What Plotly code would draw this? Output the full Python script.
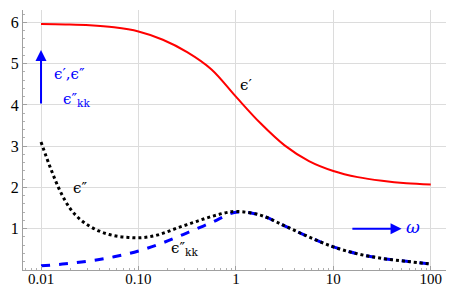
import plotly.graph_objects as go

# Data
omega = [0.01, 0.0178, 0.0316, 0.0562, 0.1, 0.178, 0.316, 0.562, 1.0,
         1.78, 3.16, 5.62, 10.0, 17.8, 31.6, 56.2, 100.0]
eps_real = [5.96, 5.95, 5.93, 5.88, 5.78, 5.58, 5.28, 4.86, 4.20,
            3.56, 3.02, 2.64, 2.40, 2.25, 2.16, 2.10, 2.07]
eps_kk = [0.10, 0.15, 0.22, 0.32, 0.46, 0.66, 0.90, 1.15, 1.40,
          1.33, 1.07, 0.80, 0.56, 0.39, 0.28, 0.21, 0.145]

omega_tot = [0.01, 0.0126, 0.0158, 0.02, 0.0251, 0.0316, 0.0398, 0.0501, 0.0631,
             0.0794, 0.1, 0.126, 0.158, 0.2, 0.251, 0.316, 0.398, 0.501, 0.631,
             0.794, 1.0, 1.78, 3.16, 5.62, 10.0, 17.8, 31.6, 56.2, 100.0]
eps_imag = [3.10, 2.45, 1.90, 1.48, 1.23, 1.06, 0.94, 0.86, 0.81,
            0.79, 0.78, 0.80, 0.85, 0.93, 1.02, 1.10, 1.18, 1.26, 1.33,
            1.39, 1.42, 1.33, 1.07, 0.80, 0.56, 0.39, 0.28, 0.21, 0.145]

x_tickvals = [0.01, 0.1, 1, 10, 100]
x_ticktext = ["0.01", "0.10", "1", "10", "100"]
x_minor_vals = [m * d for d in (0.001, 0.01, 0.1, 1, 10, 100) for m in range(2, 10)]
y_tickvals = [1, 2, 3, 4, 5, 6]

fig = go.Figure()
fig.add_trace(go.Scatter(x=omega, y=eps_real, mode="lines",
                         line=dict(color="#ff0000", width=2, shape="spline"),
                         showlegend=False))
fig.add_trace(go.Scatter(x=omega, y=eps_kk, mode="lines",
                         line=dict(color="#0000ff", width=3, dash="dash", shape="spline"),
                         showlegend=False))
fig.add_trace(go.Scatter(x=omega_tot, y=eps_imag, mode="lines",
                         line=dict(color="#000000", width=3, dash="dot", shape="spline"),
                         showlegend=False))

lab_font = dict(family="DejaVu Serif", size=15, color="black")
blue_font = dict(family="DejaVu Serif", size=15, color="#0000ff")

annotations = [
    dict(x=0.10, y=4.48, text="ϵ′", showarrow=False, font=lab_font),
    dict(x=-1.6, y=1.99, text="ϵ″", showarrow=False, font=lab_font),
    dict(x=-0.53, y=0.52, text="ϵ″<sub>kk</sub>", showarrow=False, font=lab_font),
    dict(x=-1.71, y=4.74, text="ϵ′,ϵ″", showarrow=False, font=blue_font),
    dict(x=-1.64, y=4.14, text="ϵ″<sub>kk</sub>", showarrow=False, font=blue_font),
    dict(x=1.82, y=1.05, text="<i>ω</i>", showarrow=False,
         font=dict(family="DejaVu Serif", size=17, color="#0000ff")),
    dict(x=-2, y=5.33, ax=-2, ay=4.0, xref="x", yref="y", axref="x", ayref="y",
         text="", showarrow=True, arrowhead=2, arrowsize=1.1, arrowwidth=2,
         arrowcolor="#0000ff"),
    dict(x=1.70, y=1.0, ax=1.18, ay=1.0, xref="x", yref="y", axref="x", ayref="y",
         text="", showarrow=True, arrowhead=2, arrowsize=1.1, arrowwidth=2,
         arrowcolor="#0000ff"),
]

tick_font = dict(family="Liberation Serif, Times New Roman, serif", size=15, color="black")

fig.update_layout(
    width=454, height=286,
    margin=dict(l=15, r=2, t=2, b=24),
    paper_bgcolor="white", plot_bgcolor="white",
    annotations=annotations,
    xaxis=dict(type="log", range=[-2.185, 2.30],
               tickvals=x_tickvals, ticktext=x_ticktext,
               showgrid=True, gridcolor="#dcdcdc", gridwidth=1,
               showline=True, linecolor="#a0a0a0", linewidth=1,
               ticks="inside", ticklen=4, tickcolor="#a0a0a0",
               ticklabelstandoff=-5,
               minor=dict(tickmode="array", tickvals=x_minor_vals,
                          ticks="inside", ticklen=2, tickcolor="#b0b0b0",
                          showgrid=False),
               tickfont=tick_font, zeroline=False),
    yaxis=dict(range=[0, 6.3], tickvals=y_tickvals,
               showgrid=True, gridcolor="#dcdcdc", gridwidth=1,
               showline=True, linecolor="#a0a0a0", linewidth=1,
               ticks="inside", ticklen=4, tickcolor="#a0a0a0",
               minor=dict(ticks="inside", ticklen=2, tickcolor="#b0b0b0",
                          dtick=0.2, showgrid=False),
               tickfont=dict(family="Liberation Serif, Times New Roman, serif",
                             size=16, color="black"),
               zeroline=False),
)

fig.write_html("out.html")
